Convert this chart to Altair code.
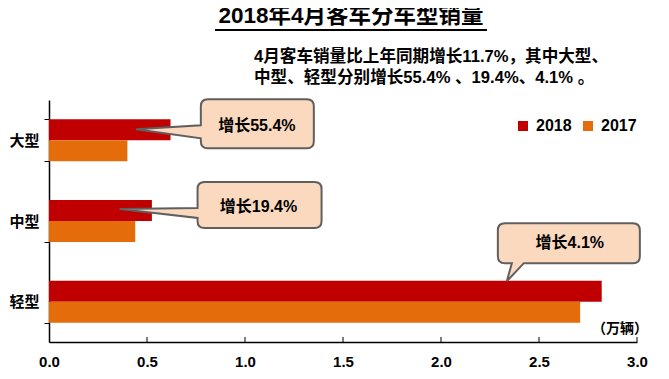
import altair as alt
import pandas as pd

# ---- data ----
categories = ["大型", "中型", "轻型"]
years = ["2018", "2017"]
sales_2018 = [0.62, 0.525, 2.82]
sales_2017 = [0.40, 0.44, 2.71]
x_ticks = [0.0, 0.5, 1.0, 1.5, 2.0, 2.5, 3.0]
callout_labels = ["增长55.4%", "增长19.4%", "增长4.1%"]
callout_x = [0.443, 0.36, 2.336]
title_text = "2018年4月客车分车型销量"
sub_line1 = "4月客车销量比上年同期增长11.7%，其中大型、"
sub_line2 = "中型、轻型分别增长55.4% 、19.4%、4.1% 。"
unit_text = "（万辆）"

FONT = "Liberation Sans, Arial, Noto Sans CJK SC"
RED = "#C00000"
ORANGE = "#E46C0A"
PEACH = "#FBD9BF"
GRAY = "#5F5F5F"

rows = []
for c, a, b in zip(categories, sales_2018, sales_2017):
    rows.append({"cat": c, "year": "2018", "value": a})
    rows.append({"cat": c, "year": "2017", "value": b})
df = pd.DataFrame(rows)

W, H = 588, 242

xscale = alt.Scale(domain=[0, 3], nice=False, zero=True)
yscale = alt.Scale(paddingInner=0.48, paddingOuter=0.24)

bars = alt.Chart(df).mark_bar().encode(
    x=alt.X("value:Q", scale=xscale,
            axis=alt.Axis(values=x_ticks, format=".1f", title=None, grid=False, ticks=False,
                          labelFontSize=15, labelFontWeight="bold", labelFont=FONT,
                          labelColor="black", labelPadding=12, labelFlush=False,
                          domainColor="black", domainWidth=1.5)),
    y=alt.Y("cat:N", sort=categories, scale=yscale,
            axis=alt.Axis(title=None, ticks=True, tickBand="extent", tickSize=5,
                          tickColor="black", domainColor="black", domainWidth=1.5,
                          labelFontSize=15, labelFontWeight="bold", labelFont=FONT,
                          labelColor="black", labelPadding=5, labelAngle=0)),
    yOffset=alt.YOffset("year:N", sort=years),
    color=alt.Color("year:N", sort=years,
                    scale=alt.Scale(domain=years, range=[RED, ORANGE]),
                    legend=alt.Legend(title=None, orient="none", legendX=466, legendY=18,
                                      direction="horizontal", symbolType="square",
                                      symbolSize=100, symbolStrokeWidth=0, symbolOpacity=1,
                                      labelFontSize=16, labelFontWeight="bold", labelFont=FONT,
                                      labelColor="black", columnPadding=8, labelOffset=5)),
)

# inward ticks on the value axis
xt = alt.Chart(pd.DataFrame({"t": x_ticks[1:]})).mark_rule(color="black", strokeWidth=1).encode(
    x=alt.X("t:Q", scale=xscale), y=alt.value(H), y2=alt.value(H - 5))


def bubble(ty, x0, y0, x1, y1, side, b0, b1, r=7):
    def p(x, y):
        return f"{x:g},{y + ty:g}"
    if side == "left":
        return (f"M{p(0,0)} L{p(x0,b0)} L{p(x0,y0+r)} Q{p(x0,y0)} {p(x0+r,y0)} "
                f"L{p(x1-r,y0)} Q{p(x1,y0)} {p(x1,y0+r)} L{p(x1,y1-r)} Q{p(x1,y1)} {p(x1-r,y1)} "
                f"L{p(x0+r,y1)} Q{p(x0,y1)} {p(x0,y1-r)} L{p(x0,b1)} Z")
    return (f"M{p(0,0)} L{p(b1,y1)} L{p(x1-r,y1)} Q{p(x1,y1)} {p(x1,y1-r)} "
            f"L{p(x1,y0+r)} Q{p(x1,y0)} {p(x1-r,y0)} L{p(x0+r,y0)} Q{p(x0,y0)} {p(x0,y0+r)} "
            f"L{p(x0,y1-r)} Q{p(x0,y1)} {p(x0+r,y1)} L{p(b0,y1)} Z")


shapes = [
    (bubble(-11, 65, -30, 178, 19, "left", -4, 9), 121, -11 - 3),
    (bubble(-12, 78, -27, 202, 19, "left", -1, 9), 139, -12 - 2),
    (bubble(-20.5, -9, -58, 133, -18, "bottom", 5, 17), 63, -20.5 - 38),
]

layers = [bars, xt]
for (path, tdx, tdy), c, xv, lab in zip(shapes, categories, callout_x, callout_labels):
    d = pd.DataFrame({"cat": [c], "x": [xv], "label": [lab]})
    layers.append(alt.Chart(d).mark_point(shape=path, size=4, filled=True, fill=PEACH,
                                          stroke=GRAY, strokeWidth=2, opacity=1).encode(
        x=alt.X("x:Q", scale=xscale), y=alt.Y("cat:N", sort=categories, scale=yscale)))
    layers.append(alt.Chart(d).mark_text(dx=tdx, dy=tdy, fontSize=16, fontWeight="bold",
                                         font=FONT, color="black", baseline="middle").encode(
        x=alt.X("x:Q", scale=xscale), y=alt.Y("cat:N", sort=categories, scale=yscale),
        text="label:N"))


def txt(s, x, y, size, align="left", baseline="middle"):
    return alt.Chart(pd.DataFrame({"s": [s]})).mark_text(
        fontSize=size, fontWeight="bold", font=FONT, color="black", align=align,
        baseline=baseline).encode(text="s:N", x=alt.value(x), y=alt.value(y))


layers.append(txt(title_text, 302, -77, 22.5, "center", "alphabetic"))
layers.append(alt.Chart(pd.DataFrame({"a": [0]})).mark_rule(color="black", strokeWidth=2).encode(
    x=alt.value(166), x2=alt.value(438), y=alt.value(-70)))
layers.append(txt(sub_line1, 205, -43, 16.6))
layers.append(txt(sub_line2, 205, -22, 16.6))
layers.append(txt(unit_text, 599, 229, 14, "right"))

chart = alt.layer(*layers).properties(
    width=W, height=H,
    autosize=alt.AutoSizeParams(type="none"),
    padding={"left": 41, "top": 92, "right": 24, "bottom": 29},
    background="white",
).configure_view(stroke=None)

chart.save("out.html", embed_options={"renderer": "svg", "actions": False})
